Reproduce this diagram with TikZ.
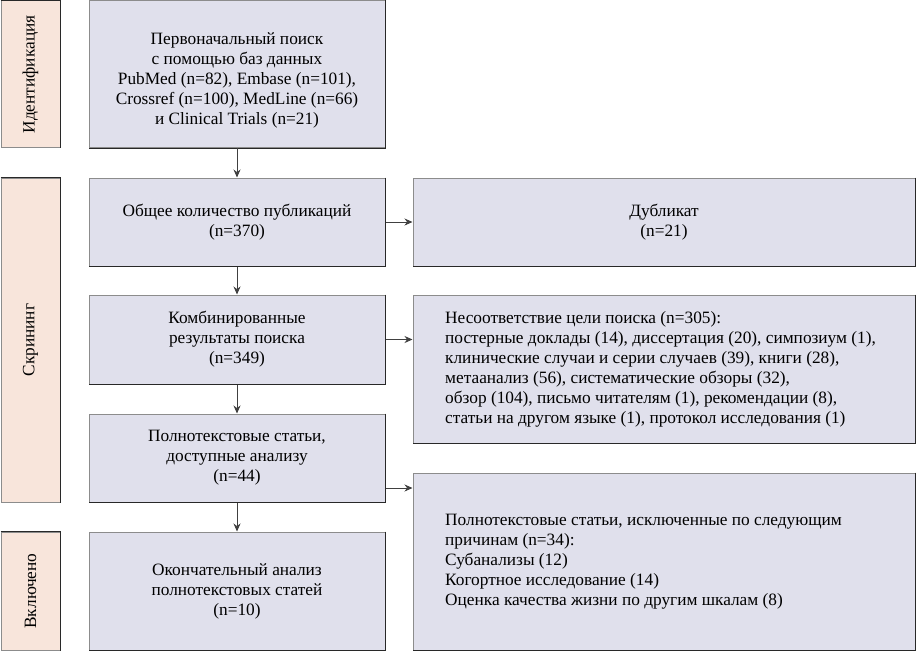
\documentclass[tikz,border=0pt]{standalone}
\usepackage{fontspec}
\setmainfont{Liberation Serif}
\usetikzlibrary{arrows.meta,calc}
\definecolor{boxfill}{RGB}{224,224,236}
\definecolor{stagefill}{RGB}{248,229,219}
\definecolor{edgelight}{RGB}{140,140,140}
\definecolor{edgedark}{RGB}{40,40,40}
\tikzset{
  txt/.style={inner sep=0pt, align=center, font=\fontsize{17.3}{20}\selectfont},
  ltxt/.style={txt, align=left, anchor=west},
  box/.style={txt, draw=edgelight, line width=1pt, fill=boxfill},
  midbox/.style={box, minimum width=296pt},
  sidebox/.style={box, minimum width=502pt},
  stage/.style={txt, draw=edgelight, line width=1pt, fill=stagefill, rotate=90, minimum height=59pt},
  arr/.style={draw=black!75, line width=0.8pt, -{Stealth[length=8pt,width=7pt]}},
}
\newcommand{\darkedge}[1]{\draw[edgedark, line width=1pt] (#1.north east) -- (#1.south east) -- (#1.south west);}
\begin{document}
\begin{tikzpicture}[x=1pt,y=-1pt]
\useasboundingbox (0,0) rectangle (916,651);
% stages
\node[stage, minimum width=147pt] (L1) at (30.5,74.4) {Идентификация};
\node[stage, minimum width=324pt] (L2) at (30.5,340) {Скрининг};
\node[stage, minimum width=118pt] (L3) at (30.5,591) {Включено};
% main column
\node[midbox, minimum height=147pt] (B1) at (237,74.4) {};
\node[txt] (B1t) at (237,80) {Первоначальный поиск\\с помощью баз данных\\PubMed (n=82), Embase (n=101),\\Crossref (n=100), MedLine (n=66)\\и Clinical Trials (n=21)};
\node[midbox, minimum height=88pt] (B2) at (237,222) {Общее количество публикаций\\(n=370)};
\node[midbox, minimum height=89pt] (B3) at (237,339.5) {Комбинированные\\результаты поиска\\(n=349)};
\node[midbox, minimum height=88pt] (B4) at (237,458) {Полнотекстовые статьи,\\доступные анализу\\(n=44)};
\node[midbox, minimum height=118pt] (B5) at (237,591) {Окончательный анализ\\полнотекстовых статей\\(n=10)};
% side column
\node[sidebox, minimum height=88pt] (R1) at (664,222) {Дубликат\\(n=21)};
\node[sidebox, minimum height=148pt] (R2) at (664,369) {};
\node[ltxt] (R2t) at (445,369) {Несоответствие цели поиска (n=305):\\постерные доклады (14), диссертация (20), симпозиум (1),\\клинические случаи и серии случаев (39), книги (28),\\метаанализ (56), систематические обзоры (32),\\обзор (104), письмо читателям (1), рекомендации (8),\\статьи на другом языке (1), протокол исследования (1)};
\node[sidebox, minimum height=177pt] (R3) at (664,561.5) {};
\node[ltxt] (R3t) at (445,561.5) {Полнотекстовые статьи, исключенные по следующим\\причинам (n=34):\\Субанализы (12)\\Когортное исследование (14)\\Оценка качества жизни по другим шкалам (8)};
\foreach \n in {L1,L2,L3,B1,B2,B3,B4,B5,R1,R2,R3} {\darkedge{\n}}
% arrows
\draw[arr] (B1) -- (B2);
\draw[arr] (B2) -- (B3);
\draw[arr] (B3) -- (B4);
\draw[arr] (B4) -- (B5);
\draw[arr] (B2) -- (R1);
\draw[arr] (B3.east) -- (B3.east -| R2.west);
\coordinate (B4out) at ($(B4.east)+(0,30)$);
\draw[arr] (B4out) -- (B4out -| R3.west);
\end{tikzpicture}
\end{document}
